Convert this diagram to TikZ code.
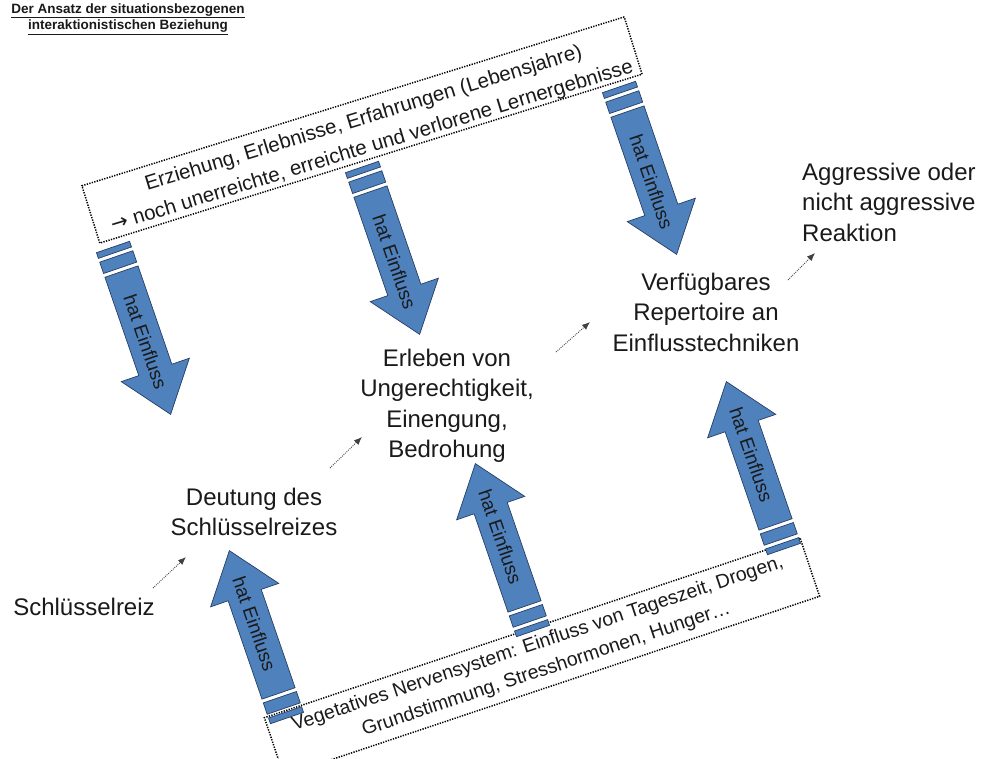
\documentclass[tikz,border=0pt]{standalone}
\usepackage{fontspec}
\setmainfont{Liberation Sans}
\newfontfamily\arrowfont{DejaVu Sans}
\usetikzlibrary{arrows.meta,calc}
\definecolor{arrblue}{HTML}{4F81BD}
\definecolor{arrline}{HTML}{263F66}
\definecolor{txt}{HTML}{1A1A1A}
\tikzset{
  lbl/.style={font=\fontsize{24}{30.5}\selectfont, align=center, inner sep=0pt, text=txt},
  dotbox/.style={draw=black, line width=1.5pt, dash pattern=on 1.3pt off 1.3pt, inner sep=0pt,
                 align=center, text=txt},
  dotconn/.style={draw=black!75, line width=0.9pt, dash pattern=on 0.9pt off 1.2pt,
                  -{Latex[length=8pt,width=6.5pt]}},
  barpart/.style={fill=arrblue, draw=arrline, line width=0.7pt},
  einfl/.pic={
    \path[barpart] (0,-17.5) rectangle (6,17.5);
    \path[barpart] (10,-17.5) rectangle (22,17.5);
    \path[barpart] (26,-17.5) -- (130,-17.5) -- (130,-36) -- (177,0) -- (130,36) -- (130,17.5) -- (26,17.5) -- cycle;
    \node[transform shape, rotate=#1, font=\fontsize{19}{22}\selectfont, inner sep=0pt, text=txt] (-lbl) at (100,0) {hat Einfluss};
  }
}
\begin{document}
\begin{tikzpicture}[x=1pt,y=-1pt]
\useasboundingbox[fill=white] (0,0) rectangle (987,758);

% title
\node[font=\bfseries\fontsize{13.5}{16.5}\selectfont, align=center, text=txt] (title) at (128,19)
  {\underline{Der Ansatz der situationsbezogenen}\\\underline{interaktionistischen Beziehung}};

% dotted boxes
\node[dotbox, minimum width=568pt, minimum height=60pt, rotate=17.3] (topbox) at (362,130) {};
\node[rotate=17.0, align=center, text=txt, inner sep=0pt, font=\fontsize{20.5}{29}\selectfont] (toptext) at (368,133)
  {Erziehung, Erlebnisse, Erfahrungen (Lebensjahre)\\{\arrowfont →} noch unerreichte, erreichte und verlorene Lernergebnisse};
\node[dotbox, minimum width=565pt, minimum height=61pt, rotate=18.5, font=\fontsize{19.5}{27}\selectfont] (botbox) at (542,657)
  {Vegetatives Nervensystem: Einfluss von Tageszeit, Drogen,\\Grundstimmung, Stresshormonen, Hunger…};

% blue arrows
\pic[rotate=-71] (a1) at (113,247) {einfl=0};
\pic[rotate=-71] (a2) at (362,167) {einfl=0};
\pic[rotate=-71] (a3) at (619,87) {einfl=0};
\pic[rotate=109] (b1) at (287,718) {einfl=180};
\pic[rotate=109] (b2) at (533,631) {einfl=180};
\pic[rotate=109] (b3) at (784,549) {einfl=180};

% labels
\node[lbl] (schl) at (84,607) {Schlüsselreiz};
\node[lbl] (deut) at (254,512) {Deutung des\\Schlüsselreizes};
\node[lbl] (erl) at (447,406) {Erleben von\\Ungerechtigkeit,\\Einengung,\\Bedrohung};
\node[lbl] (verf) at (706,312) {Verfügbares\\Repertoire an\\Einflusstechniken};
\node[lbl, align=left, anchor=west] (aggr) at (802,202) {Aggressive oder\\nicht aggressive\\Reaktion};

% dotted connectors
\coordinate (c1a) at (153,588); \coordinate (c1b) at (186,557);
\coordinate (c2a) at (330,468); \coordinate (c2b) at (362,437);
\coordinate (c3a) at (556,352); \coordinate (c3b) at (590,322);
\coordinate (c4a) at (788,280); \coordinate (c4b) at (815,253);
\draw[dotconn] (c1a) -- (c1b);
\draw[dotconn] (c2a) -- (c2b);
\draw[dotconn] (c3a) -- (c3b);
\draw[dotconn] (c4a) -- (c4b);
\end{tikzpicture}
\end{document}
